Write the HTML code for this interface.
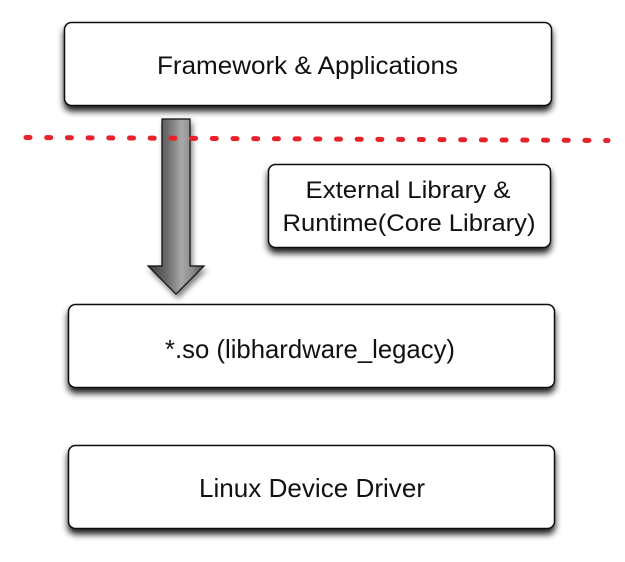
<!DOCTYPE html>
<html>
<head>
<meta charset="utf-8">
<style>
  html, body { margin: 0; padding: 0; background: #ffffff; }
  body { width: 625px; height: 562px; overflow: hidden; }
  svg { display: block; }
  text { font-family: "Liberation Sans", "DejaVu Sans", sans-serif; fill: #111; }
</style>
</head>
<body>
<svg width="625" height="562" viewBox="0 0 625 562" xmlns="http://www.w3.org/2000/svg">
  <defs>
    <filter id="sh" x="-10%" y="-20%" width="120%" height="150%">
      <feGaussianBlur in="SourceAlpha" stdDeviation="3.5"/>
      <feOffset dx="0" dy="5" result="b"/>
      <feComponentTransfer><feFuncA type="linear" slope="0.9"/></feComponentTransfer>
      <feMerge><feMergeNode/><feMergeNode in="SourceGraphic"/></feMerge>
    </filter>
    <filter id="sha" x="-50%" y="-10%" width="200%" height="130%">
      <feGaussianBlur in="SourceAlpha" stdDeviation="3"/>
      <feOffset dx="2" dy="4" result="b"/>
      <feComponentTransfer><feFuncA type="linear" slope="0.5"/></feComponentTransfer>
      <feMerge><feMergeNode/><feMergeNode in="SourceGraphic"/></feMerge>
    </filter>
    <linearGradient id="ag" x1="0" y1="0" x2="1" y2="0">
      <stop offset="0" stop-color="#3a3a3a"/>
      <stop offset="0.35" stop-color="#6e6e6e"/>
      <stop offset="0.6" stop-color="#a8a8a8"/>
      <stop offset="0.8" stop-color="#8a8a8a"/>
      <stop offset="1" stop-color="#4a4a4a"/>
    </linearGradient>
  </defs>

  <!-- Framework box -->
  <rect x="64.5" y="22.5" width="487" height="83" rx="7" ry="7" fill="#fff" stroke="#111" stroke-width="1.5" filter="url(#sh)"/>
  <text x="307.5" y="74" font-size="25" text-anchor="middle" textLength="301" lengthAdjust="spacingAndGlyphs">Framework &amp; Applications</text>

  <!-- External library box -->
  <rect x="268.5" y="164.5" width="282" height="83" rx="7" ry="7" fill="#fff" stroke="#111" stroke-width="1.5" filter="url(#sh)"/>
  <text x="408" y="198" font-size="24" text-anchor="middle" textLength="205" lengthAdjust="spacingAndGlyphs">External Library &amp;</text>
  <text x="409" y="231" font-size="24" text-anchor="middle" textLength="253" lengthAdjust="spacingAndGlyphs">Runtime(Core Library)</text>

  <!-- *.so box -->
  <rect x="68.5" y="304.5" width="486" height="83" rx="7" ry="7" fill="#fff" stroke="#111" stroke-width="1.5" filter="url(#sh)"/>
  <text x="310" y="358" font-size="26" text-anchor="middle" textLength="290" lengthAdjust="spacingAndGlyphs">*.so (libhardware_legacy)</text>

  <!-- Linux box -->
  <rect x="68.5" y="445.5" width="486" height="83" rx="7" ry="7" fill="#fff" stroke="#111" stroke-width="1.5" filter="url(#sh)"/>
  <text x="312" y="497" font-size="26" text-anchor="middle" textLength="226" lengthAdjust="spacingAndGlyphs">Linux Device Driver</text>

  <!-- Arrow -->
  <polygon points="162,119 190,119 190,266 204,266 176,294 148,266 162,266" fill="url(#ag)" stroke="#111" stroke-width="1.2" stroke-linejoin="miter" filter="url(#sha)"/>

  <!-- Red dotted line -->
  <line x1="26" y1="137.5" x2="608" y2="140.5" stroke="#e8222a" stroke-width="5" stroke-dasharray="4 16.7" stroke-linecap="round"/>
</svg>
</body>
</html>
